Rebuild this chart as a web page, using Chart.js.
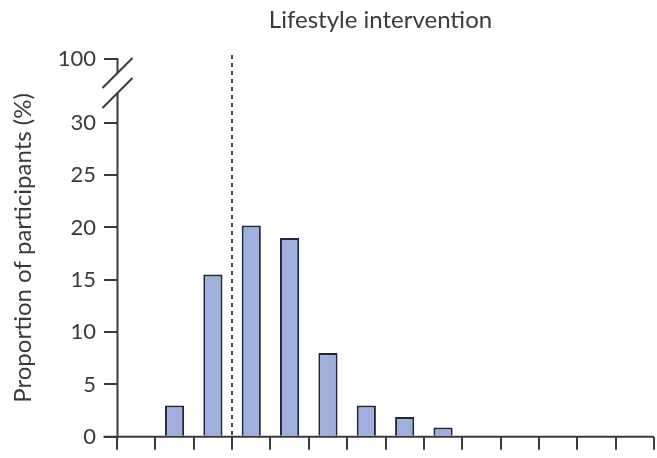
<!DOCTYPE html>
<html>
<head>
<meta charset="utf-8">
<script src="https://cdn.jsdelivr.net/npm/chart.js@4/dist/chart.umd.min.js"></script>
<style>
  html, body { margin: 0; padding: 0; background: #ffffff; }
  #wrap { width: 657px; height: 458px; position: relative; }
</style>
</head>
<body>
<div id="wrap"><canvas id="c" width="657" height="458"></canvas></div>
<script>
// ---- data ----
const chartTitle = 'Lifestyle intervention';
const yAxisTitle = 'Proportion of participants (%)';
const categories = ['0','1','2','3','4','5','6','7','8','9','10','11','12','13'];
const proportions = [0, 3, 15.5, 20.2, 19, 8, 3, 1.9, 0.9, 0, 0, 0, 0, 0];
const yTickValues = [0, 5, 10, 15, 20, 25, 30];
const yBreakTickLabel = '100';
const dashedLineBoundary = 3; // boundary between category index 2 and 3

const FONT = 'Lato, "Open Sans", sans-serif';
const INK = '#3a3a3a';

const yTopValue = 36.1;   // position used for the "100" label above the break

const overlay = {
  id: 'overlay',
  afterDraw(chart) {
    const ctx = chart.ctx;
    const x = chart.scales.x, y = chart.scales.y;
    const ca = chart.chartArea;
    const ax = Math.round(x.left) + 0.5;
    const y0 = y.getPixelForValue(0);
    const yTop = y.getPixelForValue(yTopValue);
    ctx.save();
    ctx.strokeStyle = INK;
    ctx.lineWidth = 2;
    ctx.lineCap = 'butt';
    // x axis line
    ctx.beginPath();
    ctx.moveTo(ax - 14, y0);
    ctx.lineTo(x.right, y0);
    ctx.stroke();
    // y axis lower segment (up to break)
    ctx.beginPath();
    ctx.moveTo(ax, y0 + 1);
    ctx.lineTo(ax, yTop + 34);
    ctx.stroke();
    // y axis upper segment
    ctx.beginPath();
    ctx.moveTo(ax, yTop - 1);
    ctx.lineTo(ax, yTop + 14);
    ctx.stroke();
    // break slashes
    ctx.beginPath();
    ctx.moveTo(ax - 15, yTop + 29);
    ctx.lineTo(ax + 15, yTop - 1);
    ctx.moveTo(ax - 15, yTop + 49);
    ctx.lineTo(ax + 15, yTop + 19);
    ctx.stroke();
    // dashed reference line
    const xb = (x.getPixelForValue(dashedLineBoundary - 1) + x.getPixelForValue(dashedLineBoundary)) / 2;
    ctx.strokeStyle = '#3d4a47';
    ctx.lineWidth = 2;
    ctx.setLineDash([4, 4]);
    ctx.beginPath();
    ctx.moveTo(Math.round(xb), yTop - 4);
    ctx.lineTo(Math.round(xb), y0);
    ctx.stroke();
    ctx.setLineDash([]);
    // title
    ctx.fillStyle = INK;
    ctx.font = '24px ' + FONT;
    ctx.textAlign = 'center';
    ctx.textBaseline = 'alphabetic';
    ctx.fillText(chartTitle, (ca.left + ca.right) / 2 - 5, 28);
    // y axis title
    ctx.save();
    ctx.translate(31, (y0 + yTop) / 2);
    ctx.rotate(-Math.PI / 2);
    ctx.fillText(yAxisTitle, 0, 0);
    ctx.restore();
    ctx.restore();
  }
};

new Chart(document.getElementById('c'), {
  type: 'bar',
  data: {
    labels: categories,
    datasets: [{
      data: proportions,
      backgroundColor: '#9eafdc',
      borderColor: '#1f2740',
      borderWidth: 2,
      borderSkipped: 'bottom',
      categoryPercentage: 1.0,
      barPercentage: 0.5
    }]
  },
  options: {
    responsive: false,
    animation: false,
    devicePixelRatio: 1,
    layout: { padding: { top: 59, right: 3, left: 0, bottom: 0 } },
    plugins: { legend: { display: false }, tooltip: { enabled: false }, title: { display: false } },
    scales: {
      x: {
        type: 'category',
        offset: true,
        border: { display: false },
        grid: { offset: true, drawOnChartArea: false, drawTicks: true, tickLength: 13, color: INK, lineWidth: 2 },
        ticks: { display: false },
        afterFit(scale) { scale.height = 17; }
      },
      y: {
        min: 0,
        max: yTopValue,
        border: { display: false },
        grid: { drawOnChartArea: false, drawTicks: true, tickLength: 13, color: INK, lineWidth: 2 },
        afterBuildTicks(scale) {
          scale.ticks = yTickValues.concat([yTopValue]).map(v => ({ value: v }));
        },
        ticks: {
          padding: 8,
          color: INK,
          font: { family: FONT, size: 22 },
          callback: (v) => (v > 30 ? yBreakTickLabel : String(v))
        },
        afterFit(scale) { scale.width = 117; }
      }
    }
  },
  plugins: [overlay]
});
</script>
</body>
</html>
